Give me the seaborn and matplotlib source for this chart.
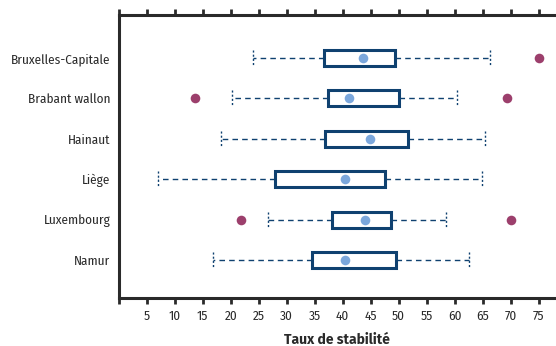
import numpy as np
import pandas as pd
import matplotlib
matplotlib.use("Agg")
import matplotlib.pyplot as plt
import seaborn as sns

# values
regions = ["Bruxelles-Capitale", "Brabant wallon", "Hainaut", "Liège", "Luxembourg", "Namur"]
whis_low = [24.0, 20.2, 18.2, 7.0, 26.7, 16.8]
q1 = [36.7, 37.3, 36.8, 28.0, 38.1, 34.6]
q3 = [49.3, 50.1, 51.6, 47.5, 48.6, 49.5]
whis_high = [66.3, 60.5, 65.5, 64.8, 58.4, 62.6]
means = [43.6, 41.1, 44.9, 40.4, 43.9, 40.4]
outlier_region = ["Bruxelles-Capitale", "Brabant wallon", "Brabant wallon", "Luxembourg", "Luxembourg"]
outlier_value = [75.1, 13.6, 69.3, 21.8, 70.0]

xticks = list(range(0, 80, 5))
xticklabels = [""] + [str(t) for t in xticks[1:]]

navy = "#0f4170"
light_blue = "#7ba7dc"
plum = "#9c3f6c"
ink = "#2a2a2a"

sns.set_style("white")
plt.rcParams["font.family"] = ["Fira Sans Condensed", "Open Sans", "DejaVu Sans"]

fig = plt.figure(figsize=(5.56, 3.46), dpi=100)
ax = fig.add_axes([0.2135, 0.1387, 0.7865, 0.8179])

stats = []
for i, r in enumerate(regions):
    stats.append({"label": r, "whislo": whis_low[i], "q1": q1[i], "med": means[i],
                  "q3": q3[i], "whishi": whis_high[i], "fliers": []})

ax.bxp(stats, positions=range(len(regions)), orientation="horizontal", widths=0.4,
       showfliers=False, patch_artist=True,
       boxprops=dict(facecolor="white", edgecolor=navy, linewidth=2.2),
       medianprops=dict(linewidth=0),
       whiskerprops=dict(color=navy, linewidth=1.0, linestyle=(0, (4, 3))),
       capprops=dict(color=navy, linewidth=1.0, linestyle=(0, (1.5, 1.5))),
       capwidths=0.4)

pos = {r: i for i, r in enumerate(regions)}
df_mean = pd.DataFrame({"y": [pos[r] for r in regions], "x": means})
df_out = pd.DataFrame({"y": [pos[r] for r in outlier_region], "x": outlier_value})
sns.scatterplot(data=df_mean, x="x", y="y", color=light_blue, s=48, linewidth=0, ax=ax, zorder=5)
sns.scatterplot(data=df_out, x="x", y="y", color=plum, s=48, linewidth=0, ax=ax, zorder=5)

ax.set_xlim(0, 78.1)
ax.set_ylim(5.94, -1.064)
ax.set_yticks(range(len(regions)))
ax.set_yticklabels(regions, fontsize=9.5)
ax.set_ylabel("")
ax.set_xticks(xticks)
ax.set_xticklabels(xticklabels, fontsize=9.5)
ax.set_xlabel("Taux de stabilité", fontsize=10, fontweight="bold", labelpad=7,
              family=["Fira Sans", "Open Sans", "DejaVu Sans"], color=ink)

for side in ["left", "bottom", "top"]:
    ax.spines[side].set_visible(True)
    ax.spines[side].set_color(ink)
    ax.spines[side].set_linewidth(2.2)
ax.spines["right"].set_visible(False)

ax.tick_params(axis="x", which="both", bottom=True, top=True, direction="out",
               length=4, width=2, color=ink, labelcolor=ink, pad=5)
ax.tick_params(axis="y", left=False, labelcolor=ink, pad=2.5)

fig.savefig("out.png", dpi=100)
